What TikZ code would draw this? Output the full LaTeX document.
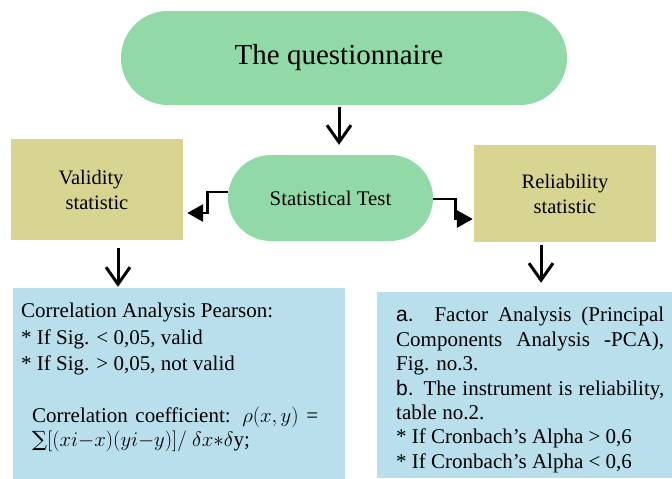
\documentclass[tikz,border=0pt]{standalone}
\usepackage{fontspec}
\setmainfont{Liberation Serif}
\newfontfamily\sansf{Liberation Sans}
\newfontfamily\symf{DejaVu Serif}
\usetikzlibrary{arrows.meta,calc}
\definecolor{pillgreen}{HTML}{92D9A8}
\definecolor{khaki}{HTML}{D8D592}
\definecolor{lightblue}{HTML}{B9DFEC}
\begin{document}
\begin{tikzpicture}[x=1pt,y=-1pt,
  box/.style={rectangle,inner sep=0pt,draw=none},
  pill/.style={box,fill=pillgreen},
  kbox/.style={box,fill=khaki,align=center,font=\fontsize{20.5}{25}\selectfont},
  bbox/.style={box,fill=lightblue},
  txt/.style={inner sep=0pt,anchor=base west,font=\fontsize{21}{24}\selectfont},
  darr/.style={line width=3pt,-{Straight Barb[length=17pt,width=24pt]}},
  elbow/.style={line width=2.8pt,-{Triangle[length=16pt,width=17pt]}},
]
\useasboundingbox (0,0) rectangle (672,479);
\fill[white] (0,0) rectangle (672,479);

% shapes
\node[pill,minimum width=446pt,minimum height=94pt,rounded corners=46.9pt,
      font=\fontsize{29}{34}\selectfont] (top) at (344,58) {The questionnaire\hspace*{10pt}};
\node[pill,minimum width=205pt,minimum height=86pt,rounded corners=42.9pt,
      font=\fontsize{20.8}{25}\selectfont] (stat) at (330.5,198) {Statistical Test};
\node[kbox,minimum width=172pt,minimum height=101pt] (val) at (97,189.5)
      {Validity\hspace*{12pt}\\statistic};
\node[kbox,minimum width=182pt,minimum height=97pt] (rel) at (565,193.5)
      {Reliability\\statistic};
\node[bbox,minimum width=332pt,minimum height=191pt] (lbox) at (179,383.5) {};
\node[bbox,minimum width=295pt,minimum height=186pt] (rbox) at (524.5,385) {};

% left box text
\node[txt] (l1) at (21,317) {Correlation Analysis Pearson:};
\node[txt] (l2) at (21,344) {* If Sig. < 0,05, valid};
\node[txt] (l3) at (21,370) {* If Sig. > 0,05, not valid};
\node[txt] (l4) at (32,422) {\makebox[286pt][s]{Correlation coefficient: $\rho(x,y)$ =}};
\node[txt] (l5) at (32,446) {{\symf ∑}$[(xi{-}x)(yi{-}y)]/\ \delta x{*}\delta$y;};

% right box text
\node[txt] (r1) at (396,321.5) {\makebox[268pt][s]{{\sansf a.} Factor Analysis (Principal}};
\node[txt] (r2) at (396,346) {\makebox[268pt][s]{Components Analysis -PCA),}};
\node[txt] (r3) at (396,370.5) {Fig. no.3.};
\node[txt] (r4) at (396,395) {\makebox[268pt][s]{{\sansf b.} The instrument is reliability,}};
\node[txt] (r5) at (396,419) {table no.2.};
\node[txt] (r6) at (396,443) {* If Cronbach’s Alpha > 0,6};
\node[txt] (r7) at (396,468) {* If Cronbach’s Alpha < 0,6};

% connectors
\draw[darr,shorten <=2pt,shorten >=10pt] ([xshift=-5pt]top.south) -- ([xshift=-5pt]top.south |- stat.north);
\draw[darr,shorten <=8pt,shorten >=1pt] ([xshift=21pt]val.south) -- ([xshift=21pt]val.south |- lbox.north);
\draw[darr,shorten <=3pt,shorten >=9pt] ([xshift=-24pt]rel.south) -- ([xshift=-24pt]rel.south |- rbox.north);
\draw[elbow] ([yshift=6pt]stat.west) -- ++(-20,0) |- ([xshift=4pt,yshift=-23.5pt]val.east);
\draw[elbow] ([yshift=-1pt]stat.east) -- ++(22,0) |- ([xshift=-1pt,yshift=-25.5pt]rel.west);
\end{tikzpicture}
\end{document}
